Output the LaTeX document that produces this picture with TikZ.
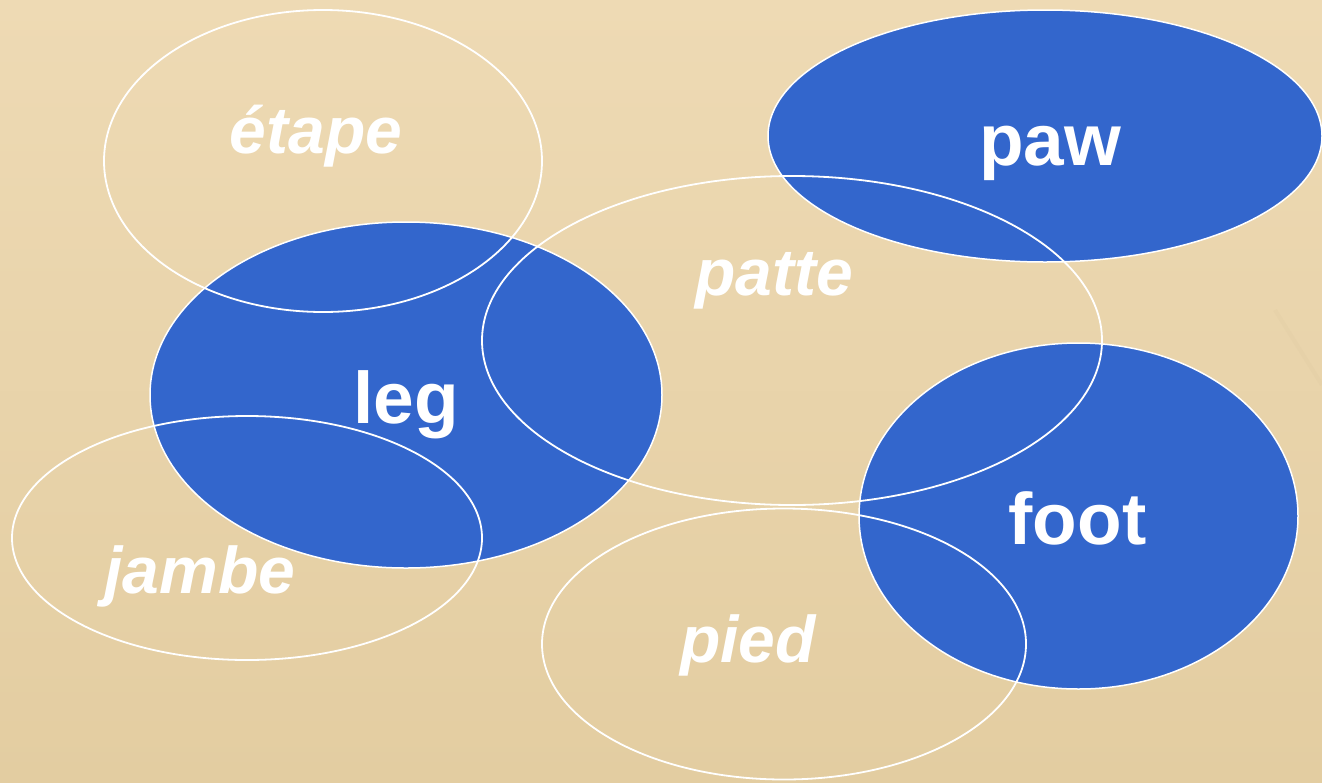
\documentclass[tikz,border=0pt]{standalone}
\usepackage{fontspec}
\setmainfont{Liberation Sans}
\usetikzlibrary{shapes.geometric}

\definecolor{paper}{RGB}{238,218,180}
\definecolor{paperdark}{RGB}{227,205,161}
\definecolor{wordblue}{RGB}{51,102,204}

\tikzset{
  english/.style={ellipse, fill=wordblue, draw=white, line width=1.5pt, inner sep=0pt},
  french/.style={ellipse, draw=white, line width=1.8pt, inner sep=0pt},
  enword/.style={anchor=base, text=white, inner sep=0pt,
    font=\fontsize{73}{73}\selectfont\bfseries},
  frword/.style={anchor=base, text=white, inner sep=0pt,
    font=\fontsize{66}{66}\selectfont\bfseries\itshape},
}

\begin{document}
\begin{tikzpicture}[x=1pt,y=-1pt]
  % paper background
  \shade[top color=paper, bottom color=paperdark] (0,0) rectangle (1322,782);
  \useasboundingbox (0,0) rectangle (1322,782);
  % faint crease in the paper
  \draw[paperdark!85!black, opacity=0.07, line width=4pt] (1275,310) -- (1322,385);

  % English words: filled ellipses
  \node[english, minimum width=512pt, minimum height=346pt] (leg) at (406,395) {};
  \node[english, minimum width=554pt, minimum height=252pt] (paw) at (1045,136) {};
  \node[english, minimum width=439pt, minimum height=346pt] (foot) at (1078.5,516) {};

  % French words: outlined ellipses
  \node[french, minimum width=438pt, minimum height=302pt] (etape) at (323,161) {};
  \node[french, minimum width=620pt, minimum height=329pt] (patte) at (792,340.5) {};
  \node[french, minimum width=470pt, minimum height=244pt] (jambe) at (247,538) {};
  \node[french, minimum width=484pt, minimum height=271pt] (pied) at (784,644) {};

  % labels
  \node[enword] (legword) at (406,423) {leg};
  \node[enword] (pawword) at (1050,165) {paw};
  \node[enword] (footword) at (1077.5,544) {foot};
  \node[frword] (etapeword) at (316,153) {étape};
  \node[frword] (patteword) at (774,295) {patte};
  \node[frword] (jambeword) at (200,593) {jambe};
  \node[frword] (piedword) at (748,662) {pied};
\end{tikzpicture}
\end{document}
